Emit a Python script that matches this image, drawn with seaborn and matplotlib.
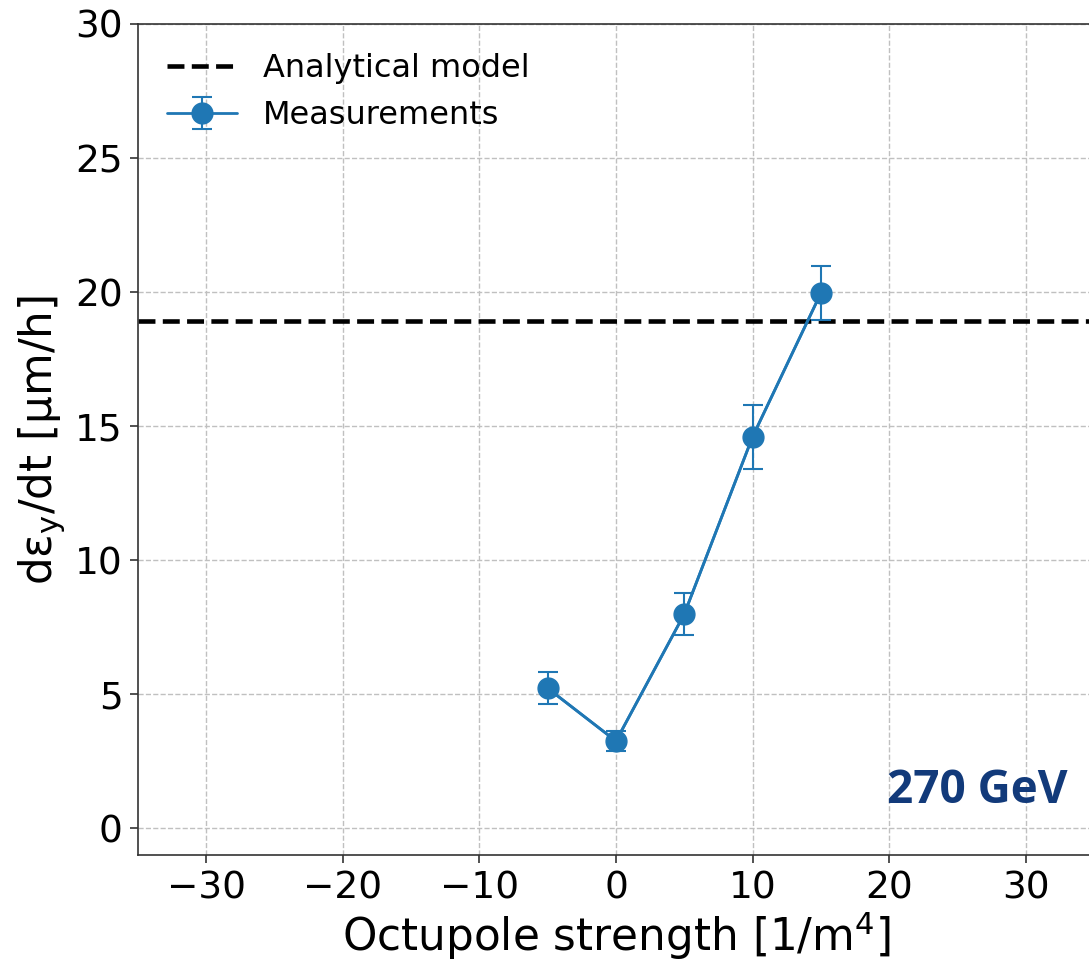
import matplotlib
matplotlib.use("Agg")
import matplotlib.pyplot as plt
import seaborn as sns
import pandas as pd
import numpy as np

octupole = [-5, 0, 5, 10, 15]
rate = [5.22, 3.25, 7.99, 14.6, 19.96]
rate_err = [0.6, 0.37, 0.77, 1.2, 1.0]
analytical = 18.93
x_ticks = [-30, -20, -10, 0, 10, 20, 30]
y_ticks = [0, 5, 10, 15, 20, 25, 30]

df = pd.DataFrame({"k": octupole, "r": rate, "e": rate_err})

sns.set_theme(style="whitegrid")
plt.rcParams['font.family'] = ['DejaVu Sans']
plt.rcParams['text.color'] = 'black'
plt.rcParams['axes.labelcolor'] = 'black'

fig = plt.figure(figsize=(10.89, 9.64), dpi=100)
ax = fig.add_axes([138/1089, 1-855/964, (1094-138)/1089, (855-24)/964])

blue = "#1f77b4"
ax.axhline(analytical, color="black", ls="--", lw=3.3, label="Analytical model")
sns.lineplot(data=df, x="k", y="r", ax=ax, color=blue, lw=2, marker=None, legend=False)
ax.errorbar(df["k"], df["r"], yerr=df["e"], fmt="o-", color=blue, ms=15, lw=2,
            capsize=7, capthick=1.5, elinewidth=1.5, label="Measurements")

ax.set_xlim(-35, 35)
ax.set_ylim(-1, 30)
ax.set_xticks(x_ticks)
ax.set_yticks(y_ticks)
ax.set_facecolor("white")
ax.grid(True, ls="--", color="#c0c0c0", lw=1)
for s in ax.spines.values():
    s.set_color("#333333")
    s.set_linewidth(1.2)
ax.tick_params(axis="both", labelsize=27, length=6, width=1.2, color="#333333",
               bottom=True, left=True, labelcolor="black", pad=5)
ax.set_xlabel("Octupole strength [1/m$^4$]", fontsize=31.5, labelpad=2, color="black")
ax.set_ylabel("dε$_{\\mathrm{y}}$/dt [μm/h]", fontsize=31.5, labelpad=6, color="black")

leg = ax.legend(loc="upper left", fontsize=23, frameon=False, handlelength=2.2,
                borderaxespad=0.5, bbox_to_anchor=(0.0, 1.0), labelspacing=0.5)
for t in leg.get_texts():
    t.set_color("black")

ax.text(0.972, 0.078, "270 GeV", transform=ax.transAxes, ha="right", va="center",
        fontsize=33, fontweight="bold", fontstretch="normal", color="#123a7a",
        family=["Open Sans", "Lato", "DejaVu Sans"])

fig.savefig("out.png", dpi=100)
